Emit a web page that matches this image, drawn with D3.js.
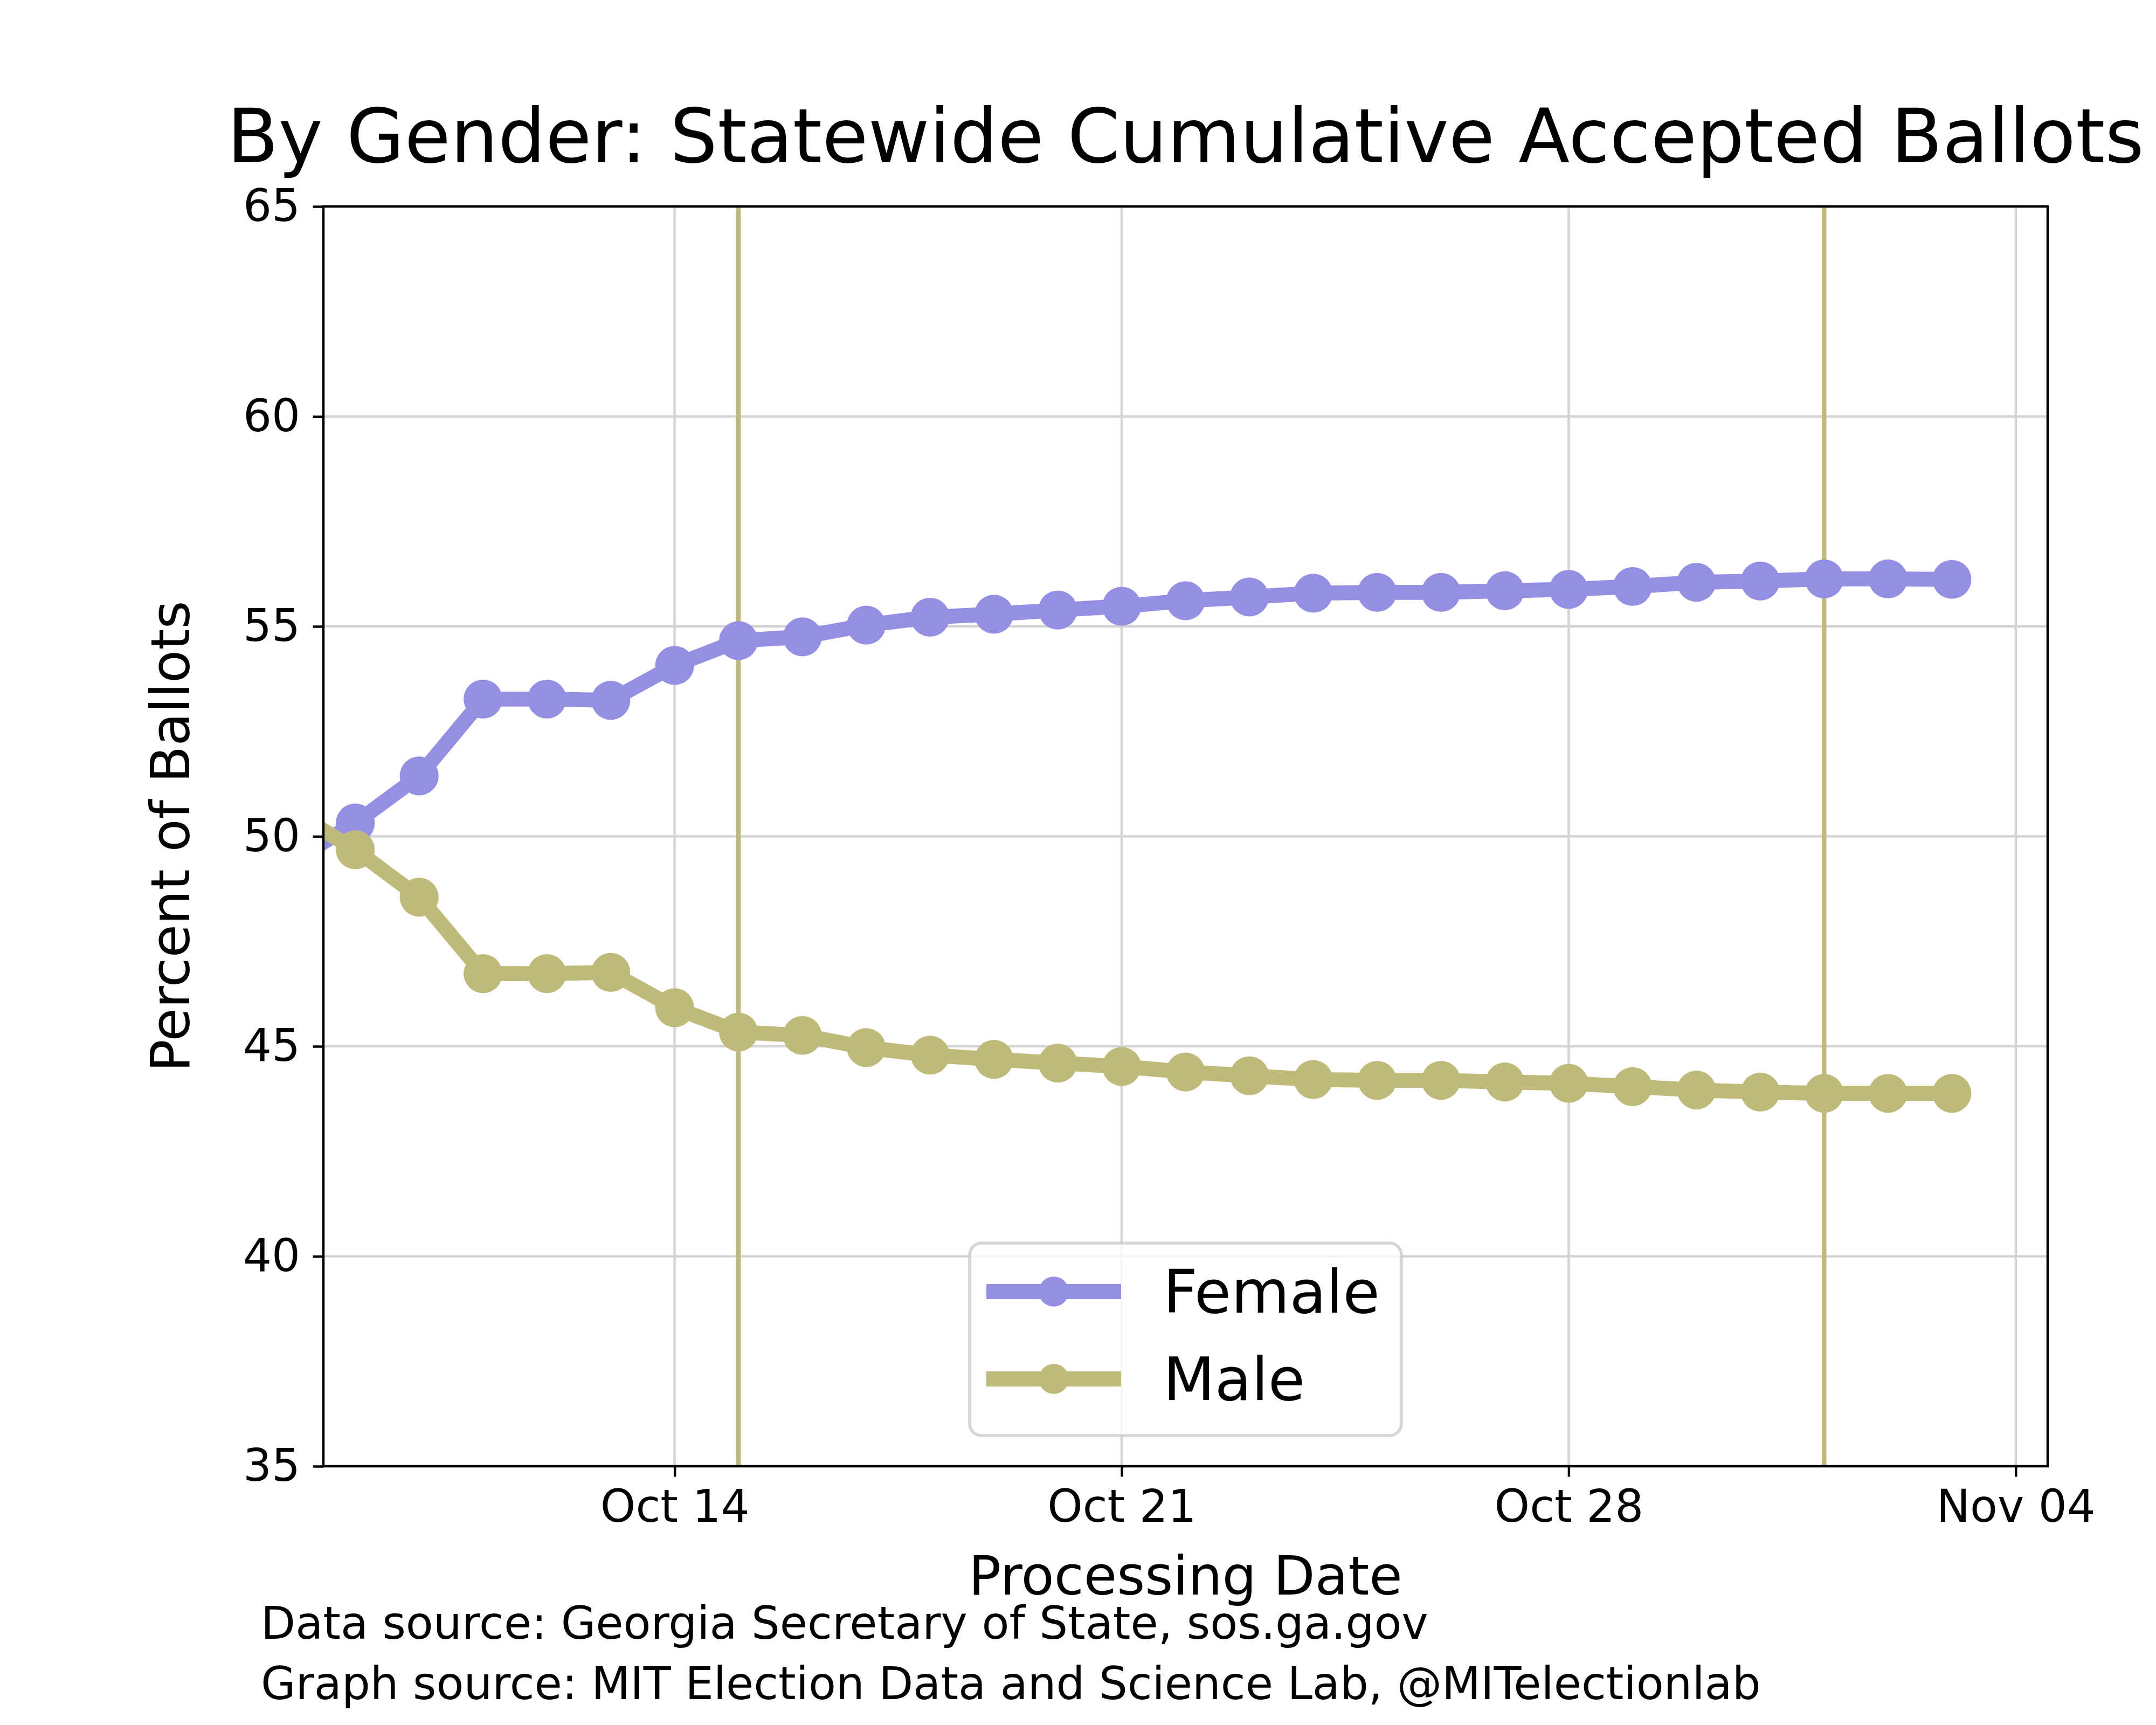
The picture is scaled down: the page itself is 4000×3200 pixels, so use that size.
<!DOCTYPE html>
<html>
<head>
<meta charset="utf-8">
<script src="https://cdn.jsdelivr.net/npm/d3@7/dist/d3.min.js"></script>
<style>
  html, body { margin: 0; padding: 0; background: #ffffff; }
  svg { display: block; }
  text { font-family: "DejaVu Sans", sans-serif; fill: #000; }
</style>
</head>
<body>
<script>
// ---- Data ----
const dates = [
  "2020-10-08","2020-10-09","2020-10-10","2020-10-11","2020-10-12","2020-10-13",
  "2020-10-14","2020-10-15","2020-10-16","2020-10-17","2020-10-18","2020-10-19",
  "2020-10-20","2020-10-21","2020-10-22","2020-10-23","2020-10-24","2020-10-25",
  "2020-10-26","2020-10-27","2020-10-28","2020-10-29","2020-10-30","2020-10-31",
  "2020-11-01","2020-11-02","2020-11-03"
];
const female = [
  49.40, 50.32, 51.44, 53.27, 53.27, 53.24,
  54.07, 54.66, 54.75, 55.03, 55.22, 55.29,
  55.39, 55.48, 55.61, 55.70, 55.79, 55.81,
  55.81, 55.85, 55.88, 55.95, 56.05, 56.08,
  56.13, 56.13, 56.12
];
const male = [
  50.60, 49.68, 48.55, 46.73, 46.73, 46.76,
  45.92, 45.34, 45.26, 44.97, 44.79, 44.69,
  44.60, 44.52, 44.39, 44.30, 44.21, 44.19,
  44.19, 44.15, 44.12, 44.04, 43.96, 43.91,
  43.88, 43.88, 43.88
];
const seriesNames = ["Female", "Male"];
const seriesColors = ["#958fe4", "#c0ba7a"];
const markerDates = ["2020-10-15", "2020-11-01"];
const xTickDates = ["2020-10-14", "2020-10-21", "2020-10-28", "2020-11-04"];
const xTickLabels = ["Oct 14", "Oct 21", "Oct 28", "Nov 04"];
const yTicks = [35, 40, 45, 50, 55, 60, 65];
const xDomain = ["2020-10-08T12:00:00Z", "2020-11-04T12:00:00Z"];
const yDomain = [35, 65];
const titleText = "By Gender: Statewide Cumulative Accepted Ballots";
const xLabelText = "Processing Date";
const yLabelText = "Percent of Ballots";
const footnotes = [
  "Data source: Georgia Secretary of State, sos.ga.gov",
  "Graph source: MIT Election Data and Science Lab, @MITelectionlab"
];

// ---- Layout ----
const W = 4000, H = 3200;
const L = 600, R = 3799, T = 383, B = 2720;
const px = 400 / 72; // points -> px

const parse = s => new Date(s.length === 10 ? s + "T00:00:00Z" : s);

const svg = d3.select("body").append("svg")
  .attr("width", W).attr("height", H)
  .attr("viewBox", `0 0 ${W} ${H}`);

svg.append("rect").attr("width", W).attr("height", H).attr("fill", "#ffffff");

const x = d3.scaleUtc().domain(xDomain.map(parse)).range([L, R]);
const y = d3.scaleLinear().domain(yDomain).range([B, T]);

const defs = svg.append("defs");
defs.append("clipPath").attr("id", "plotclip")
  .append("rect").attr("x", L).attr("y", T).attr("width", R - L).attr("height", B - T);

// grid
const grid = svg.append("g");
grid.selectAll("line.hg").data(yTicks).enter().append("line")
  .attr("x1", L).attr("x2", R)
  .attr("y1", d => y(d)).attr("y2", d => y(d))
  .attr("stroke", "#d3d3d3").attr("stroke-width", 0.8 * px);
grid.selectAll("line.vg").data(xTickDates.map(parse)).enter().append("line")
  .attr("x1", d => x(d)).attr("x2", d => x(d))
  .attr("y1", T).attr("y2", B)
  .attr("stroke", "#d3d3d3").attr("stroke-width", 0.8 * px);

// vertical marker lines
svg.append("g").selectAll("line").data(markerDates.map(parse)).enter().append("line")
  .attr("x1", d => x(d)).attr("x2", d => x(d))
  .attr("y1", T).attr("y2", B)
  .attr("stroke", seriesColors[1]).attr("stroke-width", 1.5 * px);

// series
const plot = svg.append("g").attr("clip-path", "url(#plotclip)");
const seriesData = [female, male];
const line = d3.line().x(d => x(d.date)).y(d => y(d.v));
seriesData.forEach((vals, i) => {
  const pts = dates.map((d, j) => ({ date: parse(d), v: vals[j] }));
  const g = plot.append("g");
  g.append("path").datum(pts)
    .attr("d", line)
    .attr("fill", "none")
    .attr("stroke", seriesColors[i])
    .attr("stroke-width", 5 * px)
    .attr("stroke-linejoin", "round");
  g.selectAll("circle").data(pts).enter().append("circle")
    .attr("cx", d => x(d.date)).attr("cy", d => y(d.v))
    .attr("r", 6.5 * px)
    .attr("fill", seriesColors[i]);
});

// spines
svg.append("rect").attr("x", L).attr("y", T).attr("width", R - L).attr("height", B - T)
  .attr("fill", "none").attr("stroke", "#000").attr("stroke-width", 0.8 * px);

// axes
const xAxis = d3.axisBottom(x)
  .tickValues(xTickDates.map(parse))
  .tickFormat((d, i) => xTickLabels[i])
  .tickSize(3.5 * px).tickPadding(3.5 * px);
const gx = svg.append("g").attr("transform", `translate(0,${B})`).call(xAxis);
gx.select(".domain").remove();
gx.selectAll(".tick line").attr("stroke", "#000").attr("stroke-width", 0.8 * px);
gx.selectAll(".tick text").attr("font-size", 15 * px).attr("font-family", "DejaVu Sans")
  .attr("dy", null).attr("y", 2823 - B).attr("fill", "#000");

const yAxis = d3.axisLeft(y).tickValues(yTicks).tickFormat(d3.format("d"))
  .tickSize(3.5 * px).tickPadding(3.5 * px);
const gy = svg.append("g").attr("transform", `translate(${L},0)`).call(yAxis);
gy.select(".domain").remove();
gy.selectAll(".tick line").attr("stroke", "#000").attr("stroke-width", 0.8 * px);
gy.selectAll(".tick text").attr("font-size", 15 * px).attr("font-family", "DejaVu Sans")
  .attr("x", -(L - 557)).attr("fill", "#000");

// title and labels
svg.append("text").attr("x", (L + R) / 2).attr("y", 301)
  .attr("text-anchor", "middle").attr("font-size", 25 * px).text(titleText);
svg.append("text").attr("x", (L + R) / 2).attr("y", 2958)
  .attr("text-anchor", "middle").attr("font-size", 18 * px).text(xLabelText);
svg.append("text")
  .attr("transform", `translate(351,${(T + B) / 2}) rotate(-90)`)
  .attr("text-anchor", "middle").attr("font-size", 18 * px).text(yLabelText);

// footnotes
svg.selectAll("text.foot").data(footnotes).enter().append("text")
  .attr("class", "foot")
  .attr("x", 484).attr("y", (d, i) => 3040 + i * 112)
  .attr("font-size", 15 * px).text(d => d);

// legend
const lg = svg.append("g");
const lgX = 1799, lgY = 2306, lgW = 801, lgH = 357;
lg.append("rect").attr("x", lgX).attr("y", lgY).attr("width", lgW).attr("height", lgH)
  .attr("rx", 22).attr("ry", 22)
  .attr("fill", "#ffffff").attr("fill-opacity", 0.8)
  .attr("stroke", "#cccccc").attr("stroke-opacity", 0.8).attr("stroke-width", 1 * px);
const rowY = [2396, 2558];
seriesNames.forEach((name, i) => {
  lg.append("line").attr("x1", 1830).attr("x2", 2080)
    .attr("y1", rowY[i]).attr("y2", rowY[i])
    .attr("stroke", seriesColors[i]).attr("stroke-width", 5 * px);
  lg.append("circle").attr("cx", 1955).attr("cy", rowY[i]).attr("r", 5 * px)
    .attr("fill", seriesColors[i]);
  lg.append("text").attr("x", 2158).attr("y", rowY[i] + 39)
    .attr("font-size", 20 * px).text(name);
});
</script>
</body>
</html>
